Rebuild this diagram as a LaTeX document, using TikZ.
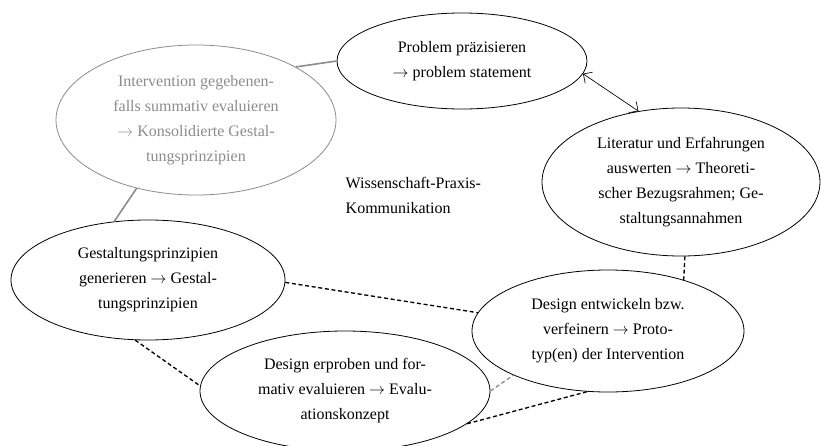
\documentclass[tikz,border=0pt]{standalone}
\usepackage{fontspec}
\setmainfont{Liberation Serif}
\usetikzlibrary{shapes.geometric}
\usetikzlibrary{arrows.meta}
\definecolor{faded}{gray}{0.55}
\tikzset{
    % One phase of the design cycle
    phase/.style={
        draw, ellipse, inner sep=0pt, align=center, line width=0.6pt,
        font=\fontsize{12pt}{18.75pt}\selectfont},
%
    % An optional phase, shown faded
    optional phase/.style={phase, draw=faded, text=faded},
%
    % Solid and dashed links between the phases
    solid link/.style={draw=faded, line width=1.2pt},
    dashed link/.style={draw, line width=1pt, dash pattern=on 3pt off 2pt},
    faded link/.style={dashed link, draw=faded},
    exchange/.style={draw, line width=0.5pt, {Straight Barb[length=5pt]}-{Straight Barb[length=5pt]}}}

\begin{document}
\begin{tikzpicture}[x=0.75pt, y=-0.75pt]

% Whole picture, margins included
\useasboundingbox (0,0) rectangle (822,446);

\node [phase, minimum width=187.5pt, minimum height=72pt] (problem) at (462,61)
    {Problem präzisieren\\$\rightarrow$ problem statement};

\node [optional phase, minimum width=210pt, minimum height=112.5pt] (summativ) at (196,120)
    {Intervention gegebenen-\\falls summativ evaluieren\\$\rightarrow$ Konsolidierte Gestal-\\tungsprinzipien};

\node [phase, minimum width=208.5pt, minimum height=111pt] (literatur) at (681,182)
    {Literatur und Erfahrungen\\auswerten $\rightarrow$ Theoreti-\\scher Bezugsrahmen; Ge-\\staltungsannahmen};

\node [phase, minimum width=205.5pt, minimum height=90pt] (prinzipien) at (148,280)
    {Gestaltungsprinzipien\\generieren $\rightarrow$ Gestal-\\tungsprinzipien};

\node [phase, minimum width=204pt, minimum height=91.5pt] (entwickeln) at (608,331)
    {Design entwickeln bzw.\\verfeinern $\rightarrow$ Proto-\\typ(en) der Intervention};

\node [phase, minimum width=217.5pt, minimum height=90pt] (erproben) at (345,391)
    {Design erproben und for-\\mativ evaluieren $\rightarrow$ Evalu-\\ationskonzept};

\node [align=left, anchor=west, font=\fontsize{12pt}{18.75pt}\selectfont] (kommunikation) at (341,195)
    {Wissenschaft-Praxis-\\Kommunikation};

% Links between the phases
\path [exchange] (problem.354.5) -- (literatur.121.6);
\path [solid link] (summativ.28) -- (problem.180);
\path [solid link] (summativ.229) -- (prinzipien.120);
\path [dashed link] (prinzipien.359) -- (entwickeln.172);
\path [dashed link] (prinzipien.258) -- (erproben.178);
\path [dashed link] (literatur.273) -- (entwickeln.34.5);
\path [faded link] (erproben.0) -- (entwickeln.205.6);
\path [dashed link] (erproben.345.6) -- (entwickeln.251.6);

\end{tikzpicture}
\end{document}
